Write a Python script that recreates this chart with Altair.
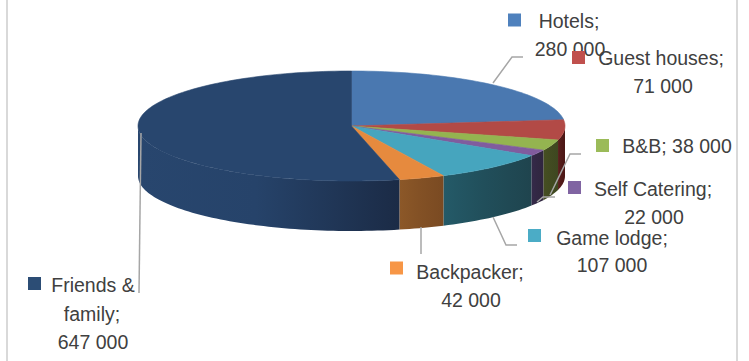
import math
import altair as alt
import pandas as pd

# Visitor accommodation figures
categories = ["Hotels", "Guest houses", "B&B", "Self Catering", "Game lodge", "Backpacker", "Friends & family"]
values = [280000, 71000, 38000, 22000, 107000, 42000, 647000]

# Styling per slice
top_colors = ["#4a78b0", "#b24a46", "#94b450", "#805c9e", "#46a5be", "#e68a3e", "#28466e"]
key_colors = ["#4f81bd", "#c0504d", "#9bbb59", "#8064a2", "#4bacc6", "#f79646", "#2c4d75"]
side_left = ["#000000", "#5a201e", "#464f22", "#352a4a", "#245a68", "#8c5828", "#28466e"]
side_mid = ["#000000", "#521b19", "#424b21", "#322844", "#214f5b", "#835125", "#26436a"]
side_right = ["#000000", "#4a1614", "#3e4720", "#30263f", "#1f444e", "#7a4a22", "#1b2b46"]

# Pie geometry in pixels
CX, CY, RX, RY, DEPTH = 351.5, 126, 213.5, 55, 50

# Key squares (centre) and label lines (centre x, centre y, text)
key_pos = [(514.5, 20), (578.5, 57.5), (602.5, 145.5), (574.5, 187.5), (534.5, 235.5), (396.5, 268), (34.5, 283.5)]
label_lines = [
    (569, 22, "Hotels;"), (570, 50, "280 000"),
    (661, 59, "Guest houses;"), (663, 87, "71 000"),
    (677, 147, "B&B; 38 000"),
    (653, 190, "Self Catering;"), (654, 218, "22 000"),
    (612, 239, "Game lodge;"), (612, 266, "107 000"),
    (470, 273, "Backpacker;"), (471, 301, "42 000"),
    (93, 286, "Friends  &"), (92, 315, "family;"), (93, 343, "647 000"),
]
leaders = [
    [(493, 83), (512, 57), (523, 57)],
    [(550, 195), (570, 154), (581, 154)],
    [(537, 202), (543, 197), (555, 197)],
    [(493, 217), (506, 245), (517, 245)],
    [(421, 227), (421, 254)],
    [(141, 133), (139, 293)],
]


def rim(angle_deg):
    a = math.radians(angle_deg)
    return CX + RX * math.sin(a), CY - RY * math.cos(a)


def arc_angles(a0, a1):
    n = max(2, int((a1 - a0) / 1.5) + 1)
    return [a0 + (a1 - a0) * i / n for i in range(n + 1)]


xs = alt.Scale(domain=[0, 749], range=[0, 749], nice=False, zero=False)
ys = alt.Scale(domain=[0, 361], range=[0, 361], nice=False, zero=False)
X = alt.X("x:Q", scale=xs, axis=None)
Y = alt.Y("y:Q", scale=ys, axis=None)

total = sum(values)
edges = [0.0]
for v in values:
    edges.append(edges[-1] + v / total * 360)

layers = []

# Outer side of the front half, shaded left to right
for i in range(len(values)):
    a0, a1 = max(edges[i], 90), min(edges[i + 1], 270)
    if a1 <= a0:
        continue
    rows = []
    for a in arc_angles(a0, a1):
        px, py = rim(a)
        rows.append({"x": px, "y": py, "y2": py + DEPTH})
    grad = alt.Gradient(
        gradient="linear", x1=0, x2=1, y1=0, y2=0,
        stops=[
            alt.GradientStop(offset=0, color=side_left[i]),
            alt.GradientStop(offset=0.45, color=side_mid[i]),
            alt.GradientStop(offset=1, color=side_right[i]),
        ],
    )
    layers.append(
        alt.Chart(pd.DataFrame(rows)).mark_area(fill=grad, interpolate="linear").encode(x=X, y=Y, y2="y2:Q")
    )

# Top faces
for i in range(len(values)):
    rows = [{"x": CX, "y": CY, "ord": 0}]
    for k, a in enumerate(arc_angles(edges[i], edges[i + 1])):
        px, py = rim(a)
        rows.append({"x": px, "y": py, "ord": k + 1})
    rows.append({"x": CX, "y": CY, "ord": len(rows)})
    layers.append(
        alt.Chart(pd.DataFrame(rows))
        .mark_line(fill=top_colors[i], stroke=top_colors[i], strokeWidth=0.6)
        .encode(x=X, y=Y, order="ord:Q")
    )

# Leader lines
rows = []
for j, pts in enumerate(leaders):
    for k, (px, py) in enumerate(pts):
        rows.append({"x": px, "y": py, "line": j, "ord": k})
layers.append(
    alt.Chart(pd.DataFrame(rows))
    .mark_line(color="#a6a6a6", strokeWidth=1.5)
    .encode(x=X, y=Y, detail="line:N", order="ord:Q")
)

# Frame of the chart area
layers.append(
    alt.Chart(pd.DataFrame({"x": [7, 737]})).mark_rule(color="#d9d9d9", strokeWidth=2).encode(x=X)
)

# Labels
layers.append(
    alt.Chart(pd.DataFrame(label_lines, columns=["x", "y", "t"]))
    .mark_text(font="Liberation Sans", fontSize=19.5, color="#404040", align="center", baseline="middle")
    .encode(x=X, y=Y, text="t:N")
)

# Key squares
layers.append(
    alt.Chart(pd.DataFrame({"x": [p[0] for p in key_pos], "y": [p[1] for p in key_pos], "c": key_colors}))
    .mark_square(size=169, opacity=1, filled=True)
    .encode(x=X, y=Y, fill=alt.Fill("c:N", scale=None))
)

chart = (
    alt.layer(*layers)
    .properties(width=749, height=361, padding=0, autosize=alt.AutoSizeParams(type="none"), background="white")
    .configure_view(stroke=None)
)
chart.save("out.html", embed_options={"renderer": "svg", "actions": False})
